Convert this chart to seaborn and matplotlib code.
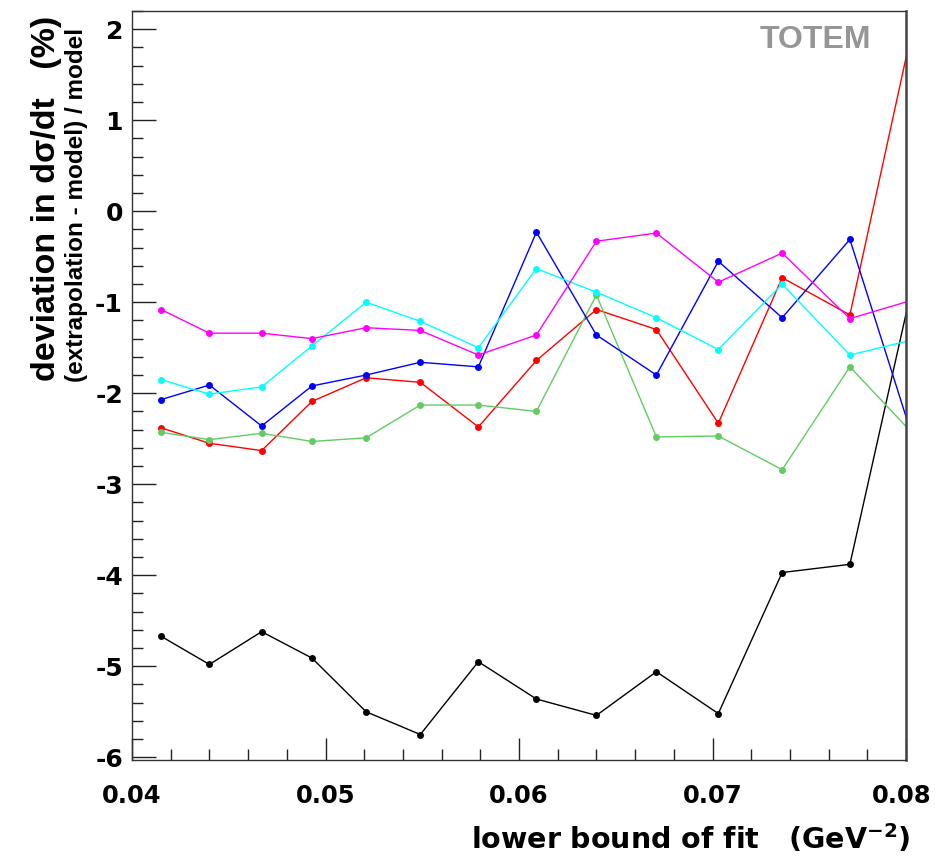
import matplotlib
matplotlib.use("Agg")
import matplotlib.pyplot as plt
from matplotlib.ticker import MultipleLocator, FormatStrFormatter
from matplotlib.transforms import ScaledTranslation
import seaborn as sns
import pandas as pd

# ---- data ----
x_bound = [0.0415, 0.0440, 0.0467, 0.0493, 0.0521, 0.0549, 0.0579,
           0.0609, 0.0640, 0.0671, 0.0703, 0.0736, 0.0771, 0.0806]

black = [-4.67, -4.98, -4.62, -4.91, -5.50, -5.75, -4.95,
         -5.36, -5.54, -5.06, -5.52, -3.97, -3.88, -0.56]
red = [-2.38, -2.55, -2.63, -2.09, -1.83, -1.88, -2.37,
       -1.64, -1.08, -1.30, -2.33, -0.73, -1.14, 2.27]
green = [-2.43, -2.51, -2.44, -2.53, -2.49, -2.13, -2.13,
         -2.20, -0.92, -2.48, -2.47, -2.84, -1.71, -2.50]
blue = [-2.07, -1.91, -2.36, -1.92, -1.80, -1.66, -1.71,
        -0.23, -1.36, -1.80, -0.55, -1.17, -0.31, -2.66]
cyan = [-1.85, -2.01, -1.93, -1.48, -1.00, -1.21, -1.50,
        -0.63, -0.89, -1.17, -1.52, -0.80, -1.58, -1.40]
magenta = [-1.08, -1.34, -1.34, -1.40, -1.28, -1.31, -1.58,
           -1.36, -0.33, -0.24, -0.78, -0.46, -1.18, -0.96]

series = {"black": black, "red": red, "green": green,
          "blue": blue, "cyan": cyan, "magenta": magenta}
colors = {"black": "#000000", "red": "#ff0000", "green": "#62cc62",
          "blue": "#0000ff", "cyan": "#00ffff", "magenta": "#ff00ff"}

x_ticks = [0.04, 0.05, 0.06, 0.07, 0.08]
y_ticks = [-6, -5, -4, -3, -2, -1, 0, 1, 2]

rows = []
for name, vals in series.items():
    for xv, yv in zip(x_bound, vals):
        rows.append({"x": xv, "y": yv, "series": name})
df = pd.DataFrame(rows)

sns.set_theme(style="ticks")
plt.rcParams["font.family"] = ["DejaVu Sans"]
plt.rcParams["axes.unicode_minus"] = False
plt.rcParams["text.color"] = "black"

W, H = 935, 857
fig = plt.figure(figsize=(W / 100, H / 100), dpi=100)
fig.patch.set_facecolor("white")
L, R, B, T = 132, 906, 760, 11
ax = fig.add_axes([L / W, 1 - B / H, (R - L) / W, (B - T) / H])
ax.set_facecolor("white")

for name in series:
    sub = df[df["series"] == name]
    sns.lineplot(data=sub, x="x", y="y", ax=ax, color=colors[name],
                 linewidth=1.0, marker="o", markersize=5,
                 markeredgewidth=0, sort=False, estimator=None,
                 legend=False)

ax.set_xlim(0.04, 0.08)
ax.set_ylim(-6.03, 2.2)
ax.set_xticks(x_ticks)
ax.set_yticks(y_ticks)
ax.xaxis.set_minor_locator(MultipleLocator(0.002))
ax.yaxis.set_minor_locator(MultipleLocator(0.2))
ax.xaxis.set_major_formatter(FormatStrFormatter("%.2f"))
ax.yaxis.set_major_formatter(FormatStrFormatter("%d"))

ax.tick_params(axis="both", which="both", direction="in", color="#222222",
               width=1.0, top=False, right=False)
ax.tick_params(axis="y", which="major", length=17, pad=6.5)
ax.tick_params(axis="x", which="major", length=16, pad=17)
ax.tick_params(axis="both", which="minor", length=8)
for lab in ax.get_yticklabels():
    lab.set_fontweight("bold")
    lab.set_fontsize(18)
    lab.set_color("black")
xlabs = ax.get_xticklabels()
for lab in xlabs:
    lab.set_fontweight("bold")
    lab.set_fontsize(17.5)
    lab.set_color("black")
# keep the last label inside the canvas
xlabs[-1].set_transform(xlabs[-1].get_transform() +
                        ScaledTranslation(-4 / 100, 0, fig.dpi_scale_trans))

for side in ["left", "bottom", "top"]:
    ax.spines[side].set_color("#333333")
    ax.spines[side].set_linewidth(1.0)
ax.spines["right"].set_color("#444444")
ax.spines["right"].set_linewidth(1.8)

ax.set_xlabel("")
ax.set_ylabel("")
ax.grid(False)

fig.text(910 / W, 1 - 849 / H, "lower bound of fit   (GeV$^{\\mathbf{-2}}$)",
         ha="right", va="baseline", fontsize=20.5, fontweight="bold",
         color="black", family=["DejaVu Sans"])

fig.text(55 / W, 1 - 198 / H, "deviation in d\u03c3/dt   (%)",
         rotation=90, rotation_mode="anchor", ha="center", va="baseline",
         fontsize=24.5, fontweight="bold", color="black",
         family=["Liberation Sans", "DejaVu Sans"])
fig.text(83 / W, 1 - 205 / H, "(extrapolation - model) / model",
         rotation=90, rotation_mode="anchor", ha="center", va="baseline",
         fontsize=17.5, fontweight="bold", color="black",
         family=["Liberation Sans", "DejaVu Sans"])

ax.text((871 - L) / (R - L), (B - 48) / (B - T), "TOTEM",
        transform=ax.transAxes, ha="right", va="baseline",
        fontsize=23, fontweight="bold", color="#969696",
        family=["Liberation Sans", "DejaVu Sans"])

fig.savefig("out.png", dpi=100, facecolor="white")
